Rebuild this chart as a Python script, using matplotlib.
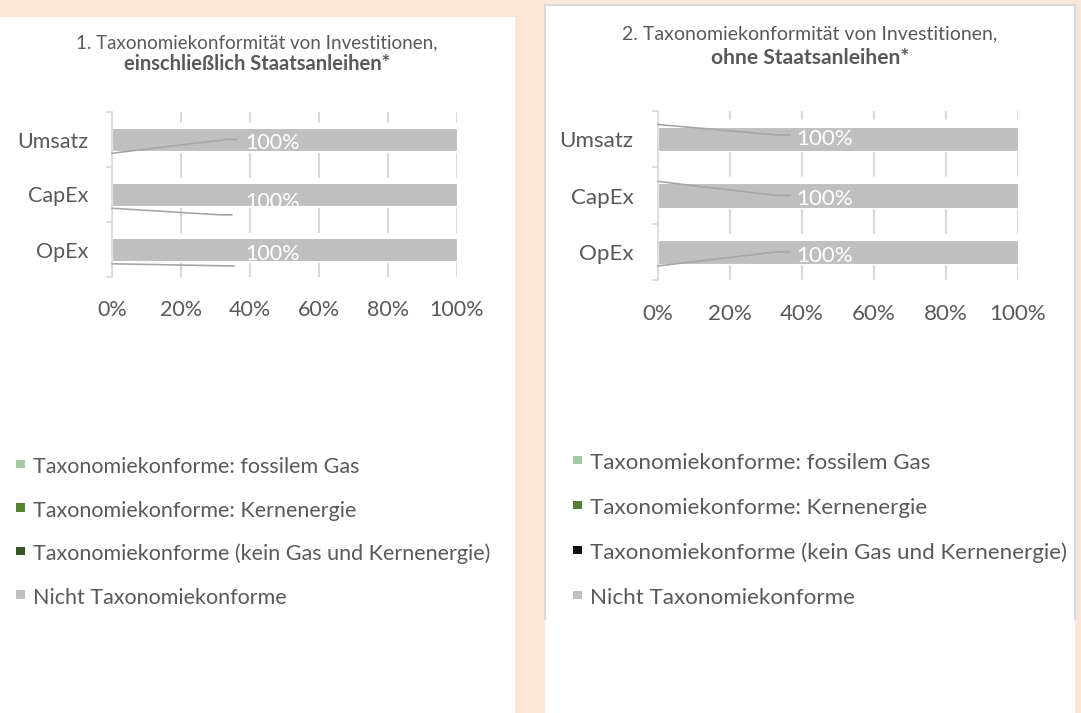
import matplotlib
matplotlib.use("Agg")
import matplotlib.pyplot as plt
from matplotlib.patches import Rectangle
from matplotlib.lines import Line2D
from matplotlib.ticker import PercentFormatter

plt.rcParams["font.family"] = ["Lato", "DejaVu Sans"]
plt.rcParams["lines.scale_dashes"] = False

categories = ["Umsatz", "CapEx", "OpEx"]
series_names = [
    "Taxonomiekonforme: fossilem Gas",
    "Taxonomiekonforme: Kernenergie",
    "Taxonomiekonforme (kein Gas und Kernenergie)",
    "Nicht Taxonomiekonforme",
]
x_ticks = [0, 0.2, 0.4, 0.6, 0.8, 1.0]

# shares per category (Umsatz, CapEx, OpEx), including sovereign bonds
incl_gas = [0.0, 0.0, 0.0]
incl_nuclear = [0.0, 0.0, 0.0]
incl_other = [0.0, 0.0, 0.0]
incl_not_aligned = [1.0, 1.0, 1.0]

# same, excluding sovereign bonds
excl_gas = [0.0, 0.0, 0.0]
excl_nuclear = [0.0, 0.0, 0.0]
excl_other = [0.0, 0.0, 0.0]
excl_not_aligned = [1.0, 1.0, 1.0]

colors_incl = ["#A2C9A0", "#548235", "#375623", "#BFBFBF"]
colors_excl = ["#A2C9A0", "#548235", "#0D0D0D", "#BFBFBF"]

TEXT = "#595959"
GRID = "#D9D9D9"
W, H = 1081, 713

fig = plt.figure(figsize=(W / 100, H / 100), dpi=100, facecolor="#FBE5D6")


def fx(x):
    return x / W


def fy(y):
    return 1 - y / H


# white card behind each chart
fig.patches.append(Rectangle((0, 0), fx(515), fy(17), transform=fig.transFigure,
                             facecolor="white", edgecolor="none", zorder=-2))
fig.patches.append(Rectangle((fx(545), 0), fx(530), fy(5), transform=fig.transFigure,
                             facecolor="white", edgecolor="none", zorder=-2))
fig.lines.append(Line2D([fx(545), fx(545), fx(1075), fx(1075)],
                        [fy(619), fy(5), fy(5), fy(619)], transform=fig.transFigure,
                        color=GRID, lw=1.5, zorder=-1))


def draw_chart(box, series, colors, title, subtitle, title_pos, label_dy, leaders,
               legend_pos, scale=1.0):
    x0, y0, x1, y1 = box
    ax = fig.add_axes([fx(x0), fy(y1), fx(x1 - x0), (y1 - y0) / H])
    ax.patch.set_visible(False)

    ypos = list(range(len(categories)))
    left = [0.0] * len(categories)
    for vals, col in zip(series, colors):
        ax.barh(ypos, vals, left=left, height=0.43, color=col,
                edgecolor="white", linewidth=0.8, zorder=2)
        left = [a + b for a, b in zip(left, vals)]

    # data labels for the non-aligned share
    last = series[-1]
    for i, v in enumerate(last):
        ax.text(0.464, i + label_dy[i], f"{v:.0%}", color="white",
                fontsize=15.5 * scale, ha="center", va="center", zorder=4)

    for xs, ys in leaders:
        ax.plot(xs, ys, color="#A6A6A6", lw=1.2, zorder=3, clip_on=False)

    ax.set_xlim(0, 1)
    ax.set_ylim(2.5, -0.5)
    ax.set_xticks(x_ticks)
    ax.xaxis.set_major_formatter(PercentFormatter(1.0, decimals=0))
    ax.set_yticks(ypos)
    ax.set_yticklabels(categories)
    ax.set_yticks([-0.5, 0.5, 1.5, 2.5], minor=True)

    ax.set_axisbelow(True)
    dash = (7.9, (18 * scale, 21.6 * scale))
    ax.xaxis.grid(True, color=GRID, lw=1.5, linestyle=dash)

    for s in ["top", "right", "bottom"]:
        ax.spines[s].set_visible(False)
    ax.spines["left"].set_color(GRID)
    ax.spines["left"].set_linewidth(1.2)

    ax.tick_params(axis="x", length=0, pad=16.5 * scale, labelsize=15.5 * scale,
                   labelcolor=TEXT)
    ax.tick_params(axis="y", which="major", length=0, pad=17 * scale,
                   labelsize=15.5 * scale, labelcolor=TEXT)
    ax.tick_params(axis="y", which="minor", length=4, width=1.2, color=GRID)

    cx, ty1, ty2 = title_pos
    fig.text(fx(cx), fy(ty1), title, ha="center", va="baseline",
             fontsize=13.5 * scale, color=TEXT)
    fig.text(fx(cx), fy(ty2), subtitle, ha="center", va="baseline",
             fontsize=14.5 * scale, color=TEXT, fontweight="bold")

    mx, tx, ry, step = legend_pos
    for k, (name, col) in enumerate(zip(series_names, colors)):
        yc = ry + k * step
        fig.patches.append(Rectangle((fx(mx), fy(yc + 3)), fx(8.5), 8.5 / H,
                                     transform=fig.transFigure, facecolor=col,
                                     edgecolor="none"))
        fig.text(fx(tx), fy(yc + 2), name, ha="left", va="center",
                 fontsize=15.5 * scale, color=TEXT)
    return ax


leaders_incl = [
    ([0, 0.332, 0.361], [0.25, 0.0, 0.0]),
    ([0, 0.313, 0.347], [1.25, 1.37, 1.37]),
    ([0, 0.354], [2.26, 2.30]),
]
leaders_excl = [
    ([0, 0.33, 0.367], [-0.26, -0.075, -0.075]),
    ([0, 0.33, 0.367], [0.75, 1.0, 1.0]),
    ([0, 0.33, 0.367], [2.25, 2.0, 2.0]),
]

draw_chart((112, 112, 457, 277),
           [incl_gas, incl_nuclear, incl_other, incl_not_aligned], colors_incl,
           "1. Taxonomiekonformität von Investitionen,",
           "einschließlich Staatsanleihen*",
           (257, 48, 70), [0.06, 0.14, 0.09], leaders_incl,
           (16, 33, 465, 43.6))

draw_chart((658, 111, 1018, 280),
           [excl_gas, excl_nuclear, excl_other, excl_not_aligned], colors_excl,
           "2. Taxonomiekonformität von Investitionen,",
           "ohne Staatsanleihen*",
           (810, 39, 64), [-0.01, 0.055, 0.07], leaders_excl,
           (573, 590, 461, 45.0), scale=1.04)

fig.savefig("out.png", dpi=100, facecolor=fig.get_facecolor())
